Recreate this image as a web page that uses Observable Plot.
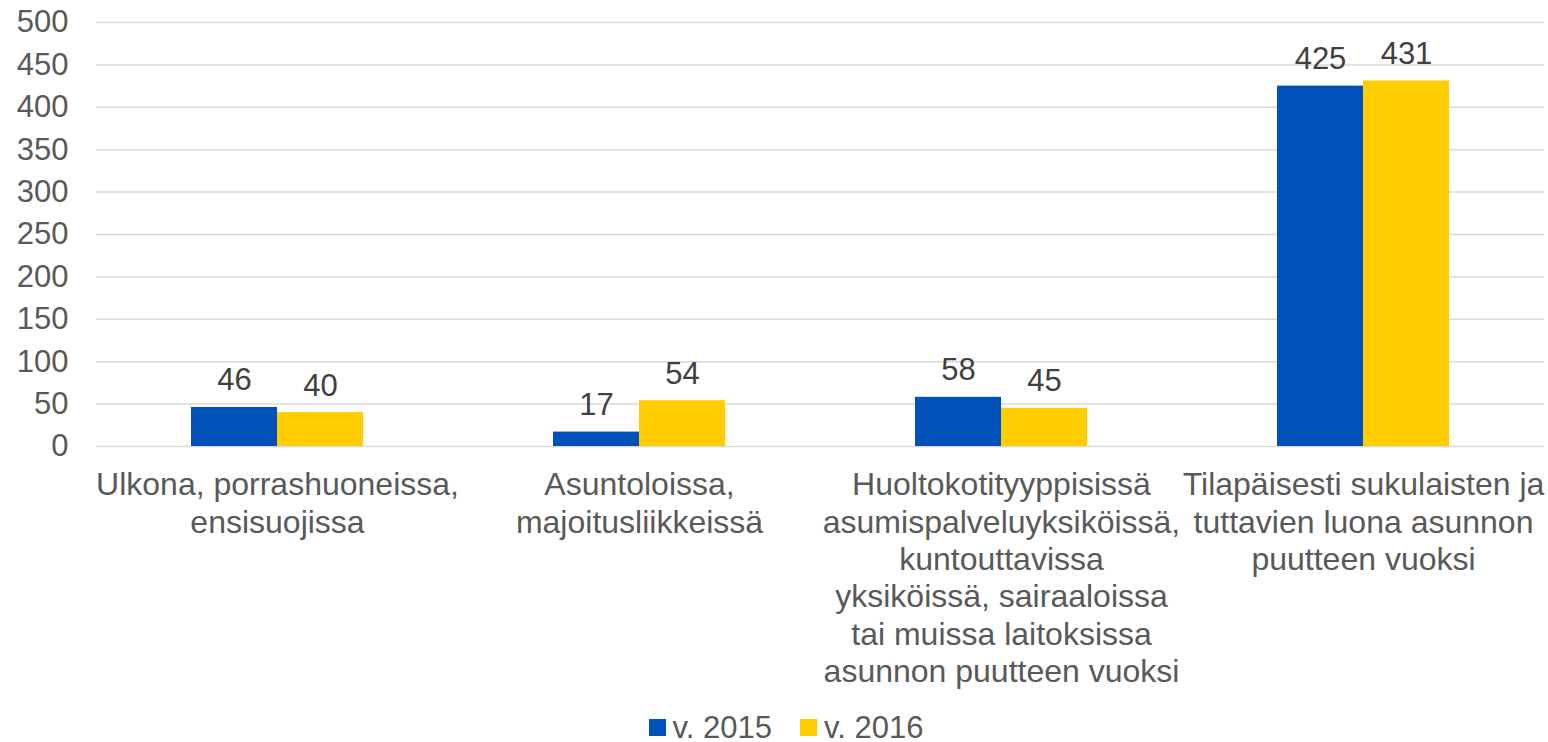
<!DOCTYPE html>
<html><head><meta charset="utf-8">
<script src="https://cdn.jsdelivr.net/npm/d3@7"></script>
<script src="https://cdn.jsdelivr.net/npm/@observablehq/plot@0.6"></script>
<style>
html,body{margin:0;background:#fff;font-family:"Liberation Sans",Arial,sans-serif;overflow:hidden}
#chart svg{display:block}
#legend{display:flex;justify-content:center;align-items:center;height:30px;padding-top:10px;padding-left:24px;font-size:31px;color:#595959;line-height:1}
.item{display:flex;align-items:center;margin:0 14px}
.sw{width:17px;height:17px;margin-right:7px;display:inline-block}
</style></head><body>
<div id="chart"></div><div id="legend"></div>
<script>
const categories = [
  "Ulkona, porrashuoneissa,\nensisuojissa",
  "Asuntoloissa,\nmajoitusliikkeissä",
  "Huoltokotityyppisissä\nasumispalveluyksiköissä,\nkuntouttavissa\nyksiköissä, sairaaloissa\ntai muissa laitoksissa\nasunnon puutteen vuoksi",
  "Tilapäisesti sukulaisten ja\ntuttavien luona asunnon\npuutteen vuoksi"
];
const years = ["v. 2015", "v. 2016"];
const values2015 = [46, 17, 58, 425];
const values2016 = [40, 54, 45, 431];
const yTicks = [0, 50, 100, 150, 200, 250, 300, 350, 400, 450, 500];
const colors = ["#0051BA", "#FFCD00"];

const data = categories.flatMap((c, i) => [
  {category: c, year: years[0], value: values2015[i]},
  {category: c, year: years[1], value: values2016[i]}
]);

const chart = Plot.plot({
  width: 1548, height: 702,
  marginTop: 22, marginBottom: 256, marginLeft: 94, marginRight: 3,
  style: {fontFamily: '"Liberation Sans", Arial, sans-serif', fontSize: "32px", background: "#fff"},
  fx: {domain: categories, padding: 0, axis: null},
  x: {domain: years, paddingInner: 0, paddingOuter: 1.1, axis: null},
  y: {domain: [0, 500], axis: null},
  color: {domain: years, range: colors},
  marks: [
    Plot.gridY(yTicks, {stroke: "#d9d9d9", strokeOpacity: 1, strokeWidth: 1.5}),
    Plot.axisY(yTicks, {tickSize: 0, tickPadding: 28, fill: "#595959", fontSize: 31, label: null}),
    Plot.barY(data, {fx: "category", x: "year", y: "value", fill: "year"}),
    Plot.text(data, {fx: "category", x: "year", y: "value", text: d => String(d.value), lineAnchor: "bottom", dy: -17, fill: "#404040", fontSize: 31}),
    Plot.text(categories, {fx: d => d, text: d => d, frameAnchor: "bottom", lineAnchor: "top", dy: 22, fill: "#595959", fontSize: 32, lineHeight: 1.17})
  ]
});
document.getElementById("chart").appendChild(chart);

const legend = document.getElementById("legend");
years.forEach((y, i) => {
  const it = document.createElement("span");
  it.className = "item";
  const sw = document.createElement("span");
  sw.className = "sw";
  sw.style.background = colors[i];
  it.appendChild(sw);
  it.appendChild(document.createTextNode(y));
  legend.appendChild(it);
});
</script>
</body></html>
